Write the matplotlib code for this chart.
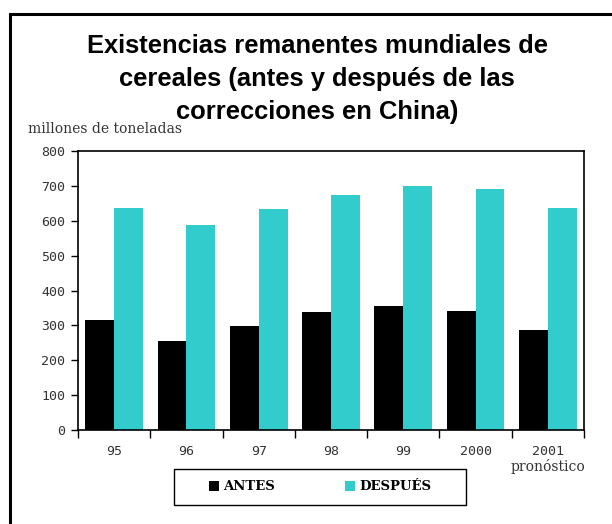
import matplotlib
matplotlib.use("Agg")
import matplotlib.pyplot as plt
from matplotlib.patches import Rectangle
import numpy as np

years = ["95", "96", "97", "98", "99", "2000", "2001"]
antes = [315, 255, 298, 338, 355, 341, 287]
despues = [636, 587, 633, 673, 699, 690, 636]
y_ticks = [0, 100, 200, 300, 400, 500, 600, 700, 800]

BLACK = "#000000"
CYAN = "#33CCCC"
TICK_FONT = "DejaVu Sans Mono"

fig = plt.figure(figsize=(6.12, 5.24), dpi=100)
fig.patch.set_facecolor("white")

# outer frame (cut off at right and bottom like the original)
fig.patches.append(Rectangle((10 / 612, -0.1), 1.2, (524 - 14) / 524 + 0.1,
                             transform=fig.transFigure, fill=False,
                             edgecolor="black", linewidth=2.2))

ax = fig.add_axes([78 / 612, 94 / 524, (584 - 78) / 612, (430 - 151) / 524])

x = np.arange(len(years))
w = 0.4
ax.bar(x - w / 2, antes, w, color=BLACK, label="ANTES")
ax.bar(x + w / 2, despues, w, color=CYAN, label="DESPUÉS")

ax.set_xlim(-0.5, len(years) - 0.5)
ax.set_ylim(0, 800)
ax.set_yticks(y_ticks)
ax.set_yticklabels([str(v) for v in y_ticks], fontsize=9.5, color="#333333",
                   family=TICK_FONT)
ax.set_xticks(np.arange(-0.5, len(years), 1.0))
ax.set_xticklabels([])
ax.set_xticks(x, minor=True)
ax.set_xticklabels(years, minor=True, fontsize=9.5, color="#333333",
                   family=TICK_FONT)
ax.tick_params(axis="x", which="minor", length=0, pad=11)
ax.tick_params(axis="x", which="major", length=6, width=1, direction="out")
ax.tick_params(axis="y", length=5, width=1, direction="out", pad=4)
for s in ax.spines.values():
    s.set_linewidth(1.2)
    s.set_color("black")

ax.text(6, -0.13, "pronóstico", transform=ax.get_xaxis_transform(),
        ha="center", va="center", fontsize=10, family="DejaVu Serif",
        color="#333333")

fig.text(28 / 612, 1 - 129 / 524, "millones de toneladas", ha="left",
         va="center", fontsize=10, family="DejaVu Serif", color="#333333")

fig.text(317 / 612, 1 - 79 / 524,
         "Existencias remanentes mundiales de\ncereales (antes y después de las\ncorrecciones en China)",
         ha="center", va="center", fontsize=18.4, fontweight="bold",
         family="Liberation Sans", linespacing=1.47)

# legend box drawn separately so it can be wider than the entries
fig.patches.append(Rectangle((174 / 612, 1 - 505 / 524), 292 / 612, 36 / 524,
                             transform=fig.transFigure, fill=False,
                             edgecolor="black", linewidth=1))
fig.legend(loc="center", bbox_to_anchor=(320 / 612, 1 - 487 / 524),
           ncol=2, frameon=False, handlelength=0.75, handleheight=0.75,
           handletextpad=0.35, columnspacing=5.3,
           prop={"family": "DejaVu Serif", "weight": "bold", "size": 9.5})

fig.savefig("out.png", dpi=100)
